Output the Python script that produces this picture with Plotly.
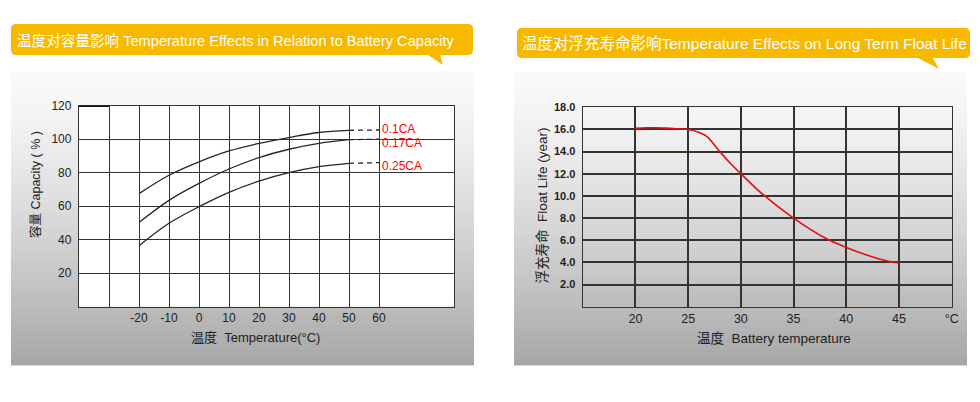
import plotly.graph_objects as go

W, H = 980, 402

# ---- data: capacity vs temperature ----
cap_temps = [-20, -10, 0, 10, 20, 30, 40, 50]
cap_01 = [67.5, 78.5, 86.5, 93.0, 97.5, 101.0, 104.0, 105.3]
cap_017 = [50.3, 63.5, 73.6, 82.2, 89.0, 94.0, 97.5, 99.7]
cap_025 = [36.4, 49.8, 59.7, 68.3, 75.0, 80.0, 83.6, 85.6]
ext_temps = [50, 60]
ext_01 = [105.3, 105.5]
ext_017 = [99.7, 100.0]
ext_025 = [85.6, 86.0]
cap_labels = ["0.1CA", "0.17CA", "0.25CA"]
cap_xticks = [-30, -20, -10, 0, 10, 20, 30, 40, 50, 60]
cap_xtext = ["", "-20", "-10", "0", "10", "20", "30", "40", "50", "60"]
cap_yticks = [20, 40, 60, 80, 100, 120]

# ---- data: float life vs temperature ----
life_temps = [20, 21, 22, 23, 24, 25, 26, 26.8, 28, 29, 30, 32, 35, 38, 40, 42, 44, 45]
life_years = [16.1, 16.15, 16.15, 16.12, 16.05, 16.0, 15.75, 15.35, 14.0, 12.95, 12.0,
              10.2, 8.0, 6.2, 5.35, 4.65, 4.1, 3.95]
life_xticks = [20, 25, 30, 35, 40, 45, 50]
life_xtext = ["20", "25", "30", "35", "40", "45", "°C"]
life_yticks = [2, 4, 6, 8, 10, 12, 14, 16, 18]
life_ytext = ["2.0", "4.0", "6.0", "8.0", "10.0", "12.0", "14.0", "16.0", "18.0"]

title_left = "温度对容量影响 Temperature Effects in Relation to Battery Capacity"
title_right = "温度对浮充寿命影响Temperature Effects on Long Term Float Life"


def px(x):
    return x / W


def py(y):
    return 1 - y / H


FONT = "Liberation Sans, Arial, Noto Sans CJK SC, sans-serif"
CJK = "Liberation Sans, Noto Sans CJK SC, sans-serif"

fig = go.Figure()

line_k = dict(color="#262626", width=1.3)
for ys, ext in [(cap_01, ext_01), (cap_017, ext_017), (cap_025, ext_025)]:
    fig.add_trace(go.Scatter(x=cap_temps, y=ys, mode="lines", line=dict(shape="spline", **line_k),
                             xaxis="x", yaxis="y", showlegend=False, hoverinfo="skip"))
    fig.add_trace(go.Scatter(x=ext_temps, y=ext, mode="lines",
                             line=dict(color="#262626", width=1.3, dash="5px,4px"),
                             xaxis="x", yaxis="y", showlegend=False, hoverinfo="skip"))

fig.add_trace(go.Scatter(x=life_temps, y=life_years, mode="lines",
                         line=dict(color="#E01010", width=1.6, shape="spline", smoothing=0.8),
                         xaxis="x2", yaxis="y2", showlegend=False, hoverinfo="skip"))

shapes = []


def gradient(x0, x1, y0, y1, n=60):
    for i in range(n):
        t0 = i / n
        t1 = (i + 1) / n
        t = (t0 + t1) / 2
        v = int(round(250 - (250 - 166) * t ** 1.35))
        shapes.append(dict(type="rect", xref="paper", yref="paper",
                           x0=px(x0), x1=px(x1), y0=py(y0 + (y1 - y0) * t0), y1=py(y0 + (y1 - y0) * t1 + 0.6),
                           fillcolor=f"rgb({v},{v},{v})", line=dict(width=0), layer="below"))


gradient(11, 474, 71, 365)
gradient(514, 967, 72, 365)

# white plot area of left chart
shapes.append(dict(type="rect", xref="paper", yref="paper", x0=px(79), x1=px(454), y0=py(306.7), y1=py(105.7),
                   fillcolor="white", line=dict(width=0), layer="below"))


def bubble(x0, x1, y0, y1, tb0, tb1, tx, ty, r=5):
    P = lambda x, y: f"{px(x):.5f},{py(y):.5f}"
    path = (f"M {P(x0 + r, y0)} L {P(x1 - r, y0)} Q {P(x1, y0)} {P(x1, y0 + r)} "
            f"L {P(x1, y1 - r)} Q {P(x1, y1)} {P(x1 - r, y1)} L {P(tb1, y1)} L {P(tx, ty)} "
            f"L {P(tb0, y1)} L {P(x0 + r, y1)} Q {P(x0, y1)} {P(x0, y1 - r)} L {P(x0, y0 + r)} "
            f"Q {P(x0, y0)} {P(x0 + r, y0)} Z")
    shapes.append(dict(type="path", xref="paper", yref="paper", path=path,
                       fillcolor="#F7B900", line=dict(width=0), layer="above"))


bubble(11, 473, 24, 55, 428, 440, 443, 65)
bubble(517, 970, 28, 58, 918, 933, 939, 69)

# thick segment on top-left of capacity grid
shapes.append(dict(type="line", xref="x", yref="y", x0=-40, x1=-30, y0=120, y1=120,
                   line=dict(color="#111", width=2.5), layer="above"))


def ann(text, x, y, size, color="#222", angle=0, xanchor="center", family=CJK):
    return dict(text=text, x=px(x), y=py(y), xref="paper", yref="paper", xanchor=xanchor, yanchor="middle",
                textangle=angle, showarrow=False, font=dict(family=family, size=size, color=color))


annotations = [
    ann(title_left, 15, 40.5, 14.6, "white", xanchor="left"),
    ann(title_right, 520, 44, 15.5, "white", xanchor="left"),
    ann("容量 Capacity ( % )", 36, 185, 12.5, angle=-90),
    ann("温度  Temperature(°C)", 255, 337, 13),
    ann("浮充寿命  Float Life (year)", 541.5, 206, 13.5, angle=-90),
    ann("温度  Battery temperature", 774, 338, 13.5),
]
for lab, ext, ys in zip(cap_labels, [ext_01, ext_017, ext_025], [1, -4, -3]):
    annotations.append(dict(text=lab, x=ext_temps[-1], y=ext[-1], xref="x", yref="y", xanchor="left",
                            yanchor="middle", xshift=1, yshift=ys, showarrow=False,
                            font=dict(family=FONT, size=12, color="#FF0000")))

grid_common = dict(showline=True, mirror=True, linecolor="#333", linewidth=1.3, ticks="",
                   zeroline=False, showgrid=True, gridcolor="#333", fixedrange=True, automargin=False)

fig.update_layout(
    width=W, height=H, margin=dict(l=0, r=0, t=0, b=0, autoexpand=False),
    paper_bgcolor="white", plot_bgcolor="rgba(0,0,0,0)",
    shapes=shapes, annotations=annotations,
    xaxis=dict(domain=[px(79), px(454)], range=[-40, 85], tickmode="array", tickvals=cap_xticks,
               ticktext=cap_xtext, gridwidth=1.2, ticklabelstandoff=0,
               tickfont=dict(family=FONT, size=12, color="#222"), anchor="y", **grid_common),
    yaxis=dict(domain=[py(306.7), py(105.7)], range=[0, 120], tickmode="array", tickvals=cap_yticks,
               gridwidth=1.2, ticklabelstandoff=4,
               tickfont=dict(family=FONT, size=12, color="#222"), anchor="x", **grid_common),
    xaxis2=dict(domain=[px(582.7), px(951.7)], range=[15, 50], tickmode="array", tickvals=life_xticks,
                ticktext=life_xtext, gridwidth=1.5, ticklabelstandoff=0,
                tickfont=dict(family=FONT, size=12.5, color="#222"), anchor="y2", **grid_common),
    yaxis2=dict(domain=[py(306.7), py(107.3)], range=[0, 18], tickmode="array", tickvals=life_yticks,
                ticktext=life_ytext, gridwidth=1.5, ticklabelstandoff=4,
                tickfont=dict(family="Liberation Sans, Arial", size=11, color="#222", weight="bold"),
                anchor="x2", **grid_common),
)

post = ("document.body.style.margin='0px';document.body.style.overflow='hidden';"
        "var d=document.getElementById('{plot_id}');d.style.position='absolute';"
        "d.style.left='0px';d.style.top='0px';")
fig.write_html("out.html", config={"displayModeBar": False}, post_script=post)
